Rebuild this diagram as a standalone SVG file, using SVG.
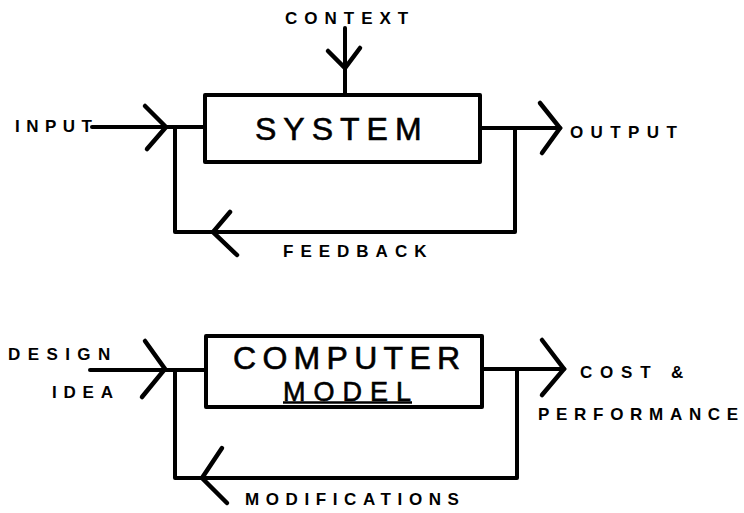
<svg xmlns="http://www.w3.org/2000/svg" width="744" height="513" viewBox="0 0 744 513">
<style>
.bg{fill:#fff}
.box{fill:#fff;stroke:#000;stroke-width:4;stroke-linejoin:round}
.ln{fill:none;stroke:#000;stroke-width:4;stroke-linecap:round;stroke-linejoin:round}
.hd{fill:none;stroke:#000;stroke-width:4.5;stroke-linecap:round;stroke-linejoin:miter}
.lbl{font-family:"Liberation Sans",Arial,sans-serif;font-weight:bold;font-size:17px;fill:#000}
.big{font-family:"Liberation Sans",Arial,sans-serif;fill:#000;stroke:#000;stroke-width:0.6}
</style>
<rect class="bg" x="0" y="0" width="744" height="513"/>
<g id="connectors">
  <path class="ln" d="M345 28 V95"/>
  <path class="hd" d="M328 51 L345 68 L360 48"/>
  <path class="ln" d="M92 127 H205"/>
  <path class="hd" d="M145 106 L166 127 L147 149"/>
  <path class="ln" d="M480 128 H560"/>
  <path class="hd" d="M540 103 L560 128 L542 153"/>
  <path class="ln" d="M175 127 V232 H515 V128"/>
  <path class="hd" d="M230 212 L213 232 L237 255"/>
  <path class="ln" d="M90 370 H207"/>
  <path class="hd" d="M145 341 L165 369 L142 397"/>
  <path class="ln" d="M482 369 H564"/>
  <path class="hd" d="M542 340 L564 369 L542 395"/>
  <path class="ln" d="M175 370 V478 H517 V369"/>
  <path class="hd" d="M222 448 L202 478 L227 503"/>
</g>
<g id="system">
  <rect class="box" x="205" y="95" width="275" height="67"/>
  <text class="big" x="255" y="140" font-size="32" letter-spacing="7">SYSTEM</text>
</g>
<g id="computer-model">
  <rect class="box" x="206" y="336" width="276" height="71"/>
  <text class="big" x="233" y="369" font-size="32" letter-spacing="6.3">COMPUTER</text>
  <text class="big" x="283" y="401" font-size="27" letter-spacing="8">MODEL</text>
  <path class="ln" d="M283 402.5 H412" style="stroke-width:2.5;stroke-linecap:butt"/>
</g>
<g id="labels">
  <text class="lbl" x="285" y="24" letter-spacing="7">CONTEXT</text>
  <text class="lbl" x="15" y="132" letter-spacing="6.5">INPUT</text>
  <text class="lbl" x="570" y="138" letter-spacing="7.4">OUTPUT</text>
  <text class="lbl" x="283" y="257" letter-spacing="7">FEEDBACK</text>
  <text class="lbl" x="8" y="360" letter-spacing="7.4">DESIGN</text>
  <text class="lbl" x="52" y="398" letter-spacing="6.8">IDEA</text>
  <text class="lbl" x="580" y="378" letter-spacing="7.8">COST &amp;</text>
  <text class="lbl" x="538" y="420" letter-spacing="6.7">PERFORMANCE</text>
  <text class="lbl" x="245" y="505" letter-spacing="6.6">MODIFICATIONS</text>
</g>
</svg>
